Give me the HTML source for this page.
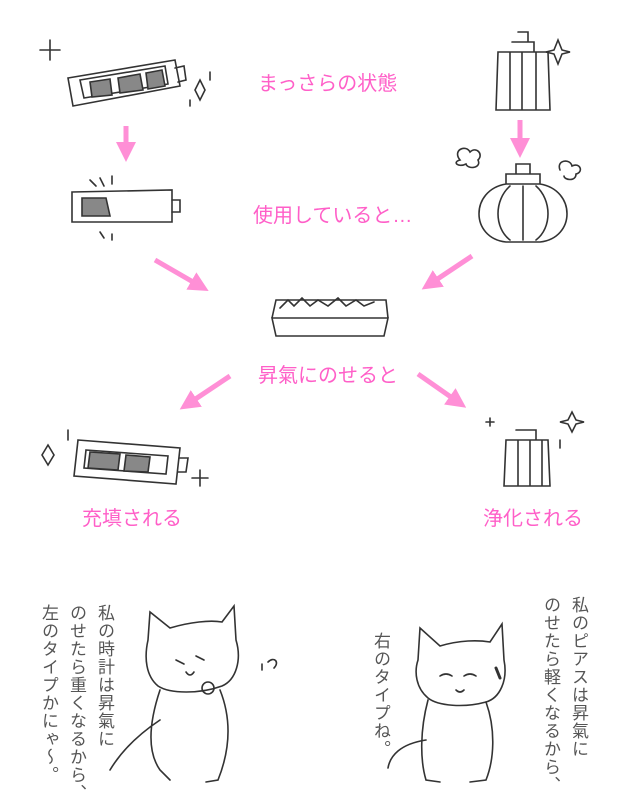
<!DOCTYPE html>
<html><head><meta charset="utf-8"><style>
html,body{margin:0;padding:0;background:#fff;}
body{width:628px;height:800px;position:relative;overflow:hidden;font-family:"Liberation Sans","Noto Sans CJK JP",sans-serif;}
.p{position:absolute;color:#ff5fc8;font-size:20px;white-space:nowrap;}
.v{position:absolute;writing-mode:vertical-rl;color:#555;font-size:17px;letter-spacing:1px;white-space:nowrap;}
svg{position:absolute;left:0;top:0;}
</style></head><body>
<svg width="628" height="800" viewBox="0 0 628 800">
<defs><marker id="a" markerWidth="4" markerHeight="4" refX="2" refY="2" orient="auto" markerUnits="strokeWidth"><path d="M0,0 L4,2 L0,4 z" fill="#ff8fd6"/></marker></defs>
<g stroke="#ff8fd6" stroke-width="5" fill="none" marker-end="url(#a)">
<line x1="126" y1="126" x2="126" y2="152"/>
<line x1="520" y1="120" x2="520" y2="148"/>
<line x1="155" y1="260" x2="200" y2="286"/>
<line x1="472" y1="256" x2="430" y2="284"/>
<line x1="230" y1="376" x2="188" y2="404"/>
<line x1="418" y1="374" x2="458" y2="402"/>
</g>
<g stroke="#333" stroke-width="1.6" fill="none" stroke-linecap="round">
<path d="M68,78 L175,60 L180,86 L73,106 Z"/><path d="M175,68 L184,66 L186,80 L178,82"/>
<path d="M80,80 L165,66 L168,84 L84,98 Z"/>
<path d="M90,82 L110,79 L112,95 L92,97Z M118,78 L140,74 L143,90 L120,93Z M146,73 L162,70 L165,86 L148,89Z" fill="#888"/>
<path d="M50,40 L50,60 M40,50 L60,50 M200,80 l5,10 l-5,10 l-5,-10z M210,72 l0,8 M190,100 l0,6"/>
<path d="M72,192 L172,190 L172,222 L72,222 Z"/><path d="M172,200 L180,200 L180,212 L172,212"/>
<path d="M82,198 L106,198 L110,216 L82,216Z" fill="#888"/>
<path d="M100,178 l4,8 M112,176 l0,8 M90,180 l6,6 M100,232 l4,6 M112,234 l0,6"/>
<path d="M78,440 L180,448 L176,484 L74,476 Z"/><path d="M180,458 L188,458 L186,472 L178,472"/>
<path d="M86,450 L168,456 L166,474 L84,468 Z"/>
<path d="M90,452 L120,454 L118,470 L88,468Z M126,455 L150,457 L148,472 L124,471Z" fill="#888"/>
<path d="M48,445 l6,10 l-6,10 l-6,-10z M68,430 l0,10 M200,470 l0,16 M192,478 l16,0"/>
<path d="M498,52 L548,52 L550,110 L496,110 Z M512,42 L534,42 L534,52 L512,52 M518,32 L528,32 L528,42 M510,52 L510,110 M522,52 L522,110 M536,52 L536,110"/>
<path d="M558,40 l4,10 l8,2 l-8,2 l-4,10 l-4,-10 l-8,-2 l8,-2z"/>
<path d="M506,184 C470,190 470,238 506,242 L540,242 C576,238 576,190 540,184 Z M506,184 L506,174 L540,174 L540,184 M516,174 L516,164 L530,164 L530,174"/>
<path d="M510,186 C494,200 494,228 510,240 M523,186 L523,240 M536,186 C552,200 552,228 536,240"/>
<path d="M460,160 c-8,-10 6,-16 10,-8 c6,-6 14,2 8,8 c4,8 -10,10 -12,4 c-8,4 -14,-2 -6,-4z M560,170 c-4,-10 10,-12 12,-4 c8,-4 12,6 4,8 c0,8 -12,6 -12,2"/>
<path d="M272,318 L388,318 L384,336 L276,336 Z M272,318 L276,300 L386,300 L388,318"/>
<path d="M280,308 l8,-8 l6,6 l8,-8 l8,8 l8,-6 l10,6 l10,-8 l8,8 l10,-6 l8,6 l10,-4" />
<path d="M506,440 L548,440 L550,486 L504,486 Z M516,430 L536,430 L536,440 M518,440 L518,486 M530,440 L530,486 M542,440 L542,486"/>
<path d="M572,412 l4,8 l8,2 l-8,2 l-4,8 l-4,-8 l-8,-2 l8,-2z M490,418 l0,8 M486,422 l8,0 M560,440 l0,8"/>
<path d="M148,640 L150,612 L170,628 C190,622 210,620 222,622 L234,606 L236,640 C242,660 236,680 222,686 C200,694 170,694 158,686 C146,676 144,658 148,640 Z"/>
<path d="M176,660 l8,4 M196,656 l8,4 M186,672 q4,6 8,0"/>
<path d="M160,690 C150,720 146,750 160,770 L170,780 M220,690 C232,720 230,750 218,780 L206,782 M160,720 C130,740 116,760 110,770"/>
<circle cx="208" cy="688" r="6"/><path d="M268,662 c6,-6 12,0 6,6 M262,664 l0,6"/>
<path d="M418,660 L420,628 L440,646 C460,640 478,640 490,642 L502,624 L504,660 C508,680 500,698 486,702 C464,708 438,706 428,698 C416,688 414,672 418,660 Z"/>
<path d="M440,676 q6,-4 12,0 M464,676 q6,-4 12,0 M456,690 q4,4 8,0"/>
<path d="M428,700 C420,730 420,760 426,780 L440,782 M486,702 C496,730 494,760 486,780 L470,782 M426,740 C400,744 390,756 388,768"/>
<path d="M496,668 l4,10" stroke-width="3"/>
</g>
</svg>
<div class="p" style="left:258px;top:67px;">まっさらの状態</div>
<div class="p" style="left:253px;top:199px;">使用していると…</div>
<div class="p" style="left:258px;top:359px;">昇氣にのせると</div>
<div class="p" style="left:82px;top:502px;">充填される</div>
<div class="p" style="left:483px;top:502px;">浄化される</div>
<div class="v" style="left:92px;top:604px;">私の時計は昇氣に</div>
<div class="v" style="left:64px;top:604px;">のせたら重くなるから、</div>
<div class="v" style="left:36px;top:604px;">左のタイプかにゃ〜。</div>
<div class="v" style="left:566px;top:596px;">私のピアスは昇氣に</div>
<div class="v" style="left:538px;top:596px;">のせたら軽くなるから、</div>
<div class="v" style="left:368px;top:632px;">右のタイプね。</div>
</body></html>
